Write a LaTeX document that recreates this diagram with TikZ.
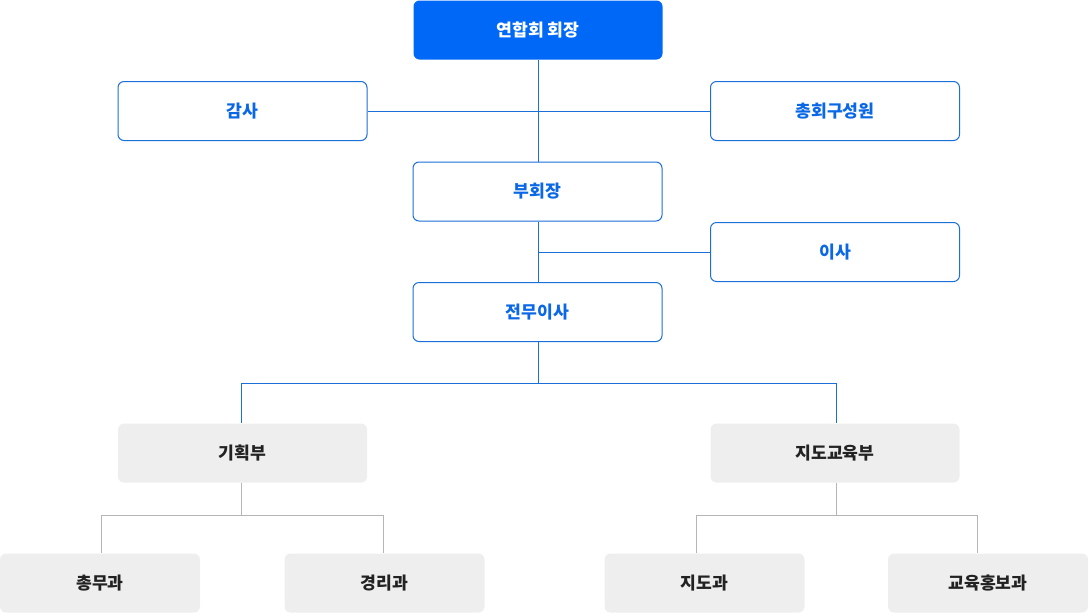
\documentclass[tikz,border=0pt]{standalone}
\usepackage{fontspec}
\newfontfamily\kr{Noto Sans CJK KR}
\definecolor{bluemain}{HTML}{0068F7}
\definecolor{blueline}{HTML}{1A6FD8}
\definecolor{bluetext}{HTML}{0A68E6}
\definecolor{greyfill}{HTML}{EEEEEE}
\definecolor{greyline}{HTML}{B5B5B5}
\definecolor{darktext}{HTML}{222222}
\tikzset{
  box/.style={rounded corners=6pt, minimum width=249pt, minimum height=59pt, inner sep=0pt, font=\kr\bfseries\fontsize{17.2}{17.2}\selectfont},
  topbox/.style={box, fill=bluemain, text=white},
  outbox/.style={box, draw=blueline, line width=1pt, fill=white, text=bluetext},
  greybox/.style={box, fill=greyfill, text=darktext},
  smallbox/.style={greybox, minimum width=200pt},
  bline/.style={draw=blueline, line width=1pt},
  gline/.style={draw=greyline, line width=1pt}
}
\begin{document}
\begin{tikzpicture}[x=1pt,y=-1pt]
\useasboundingbox (0,0) rectangle (1089,614);
% connectors
\coordinate (j1) at (538,111);
\coordinate (j2) at (538,252);
\coordinate (j3) at (538,383);
\coordinate (j3l) at (241,383);
\coordinate (j3r) at (836,383);
\coordinate (j4) at (241,515);
\coordinate (j4l) at (101,515);
\coordinate (j4r) at (383,515);
\coordinate (j5) at (836,515);
\coordinate (j5l) at (696,515);
\coordinate (j5r) at (977,515);
\node[topbox] (pres) at (538,30) {연합회 회장};
\node[outbox] (audit) at (242.5,111) {감사};
\node[outbox] (gen) at (835,111) {총회구성원};
\node[outbox] (vp) at (537.5,191.5) {부회장};
\node[outbox] (dir) at (835,252) {이사};
\node[outbox] (exec) at (537.5,312) {전무이사};
\node[greybox] (plan) at (242.5,453) {기획부};
\node[greybox] (edu) at (835,453) {지도교육부};
\node[smallbox] (gen2) at (100,583) {총무과};
\node[smallbox] (acc) at (384.5,583) {경리과};
\node[smallbox] (guid) at (704.5,583) {지도과};
\node[smallbox] (pr) at (988,583) {교육홍보과};
\path[bline] (pres.south -| j1) -- (vp.north -| j1);
\path[bline] (audit.east) -- (gen.west);
\path[bline] (vp.south -| j2) -- (exec.north -| j2);
\path[bline] (j2) -- (dir.west);
\path[bline] (exec.south -| j3) -- (j3) -- (j3l) -- (plan.north -| j3l);
\path[bline] (j3) -- (j3r) -- (edu.north -| j3r);
\path[gline] (plan.south -| j4) -- (j4);
\path[gline] (gen2.north -| j4l) -- (j4l) -- (j4r) -- (acc.north -| j4r);
\path[gline] (edu.south -| j5) -- (j5);
\path[gline] (guid.north -| j5l) -- (j5l) -- (j5r) -- (pr.north -| j5r);
\end{tikzpicture}
\end{document}
